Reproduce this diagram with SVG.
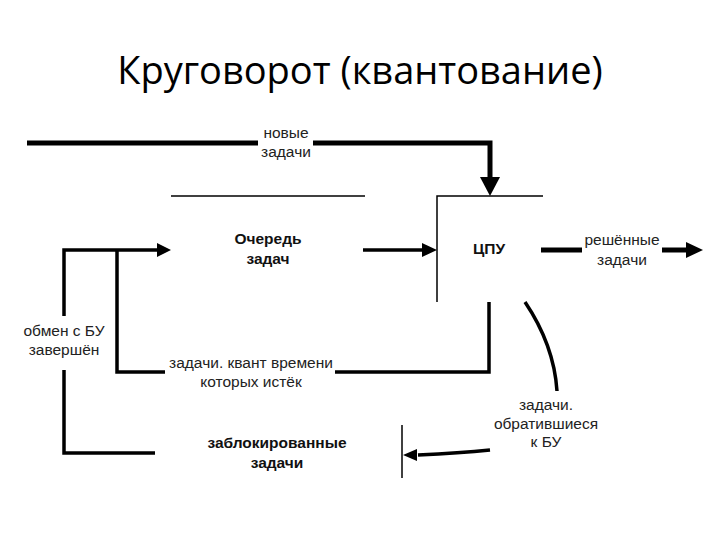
<svg xmlns="http://www.w3.org/2000/svg" width="720" height="540" viewBox="0 0 720 540">
<defs>
<style>
.t{font-family:"Liberation Sans",Arial,sans-serif;font-size:15.5px;fill:#222;text-anchor:middle}
.b{font-family:"Liberation Sans",Arial,sans-serif;font-size:15.5px;font-weight:bold;fill:#111;text-anchor:middle}
.title{font-family:"Open Sans","Liberation Sans",sans-serif;font-size:38px;fill:#000;text-anchor:middle}
.thick{stroke:#000;stroke-width:5;fill:none}
.med{stroke:#000;stroke-width:3.5;fill:none}
.thin{stroke:#000;stroke-width:1.5;fill:none}
</style>
</defs>
<rect width="720" height="540" fill="#fff"/>
<text class="title" x="360" y="84">Круговорот (квантование)</text>

<g id="queue">
<line class="thin" x1="171" y1="196" x2="365" y2="196"/>
<text class="b" x="268" y="244">Очередь</text>
<text class="b" x="268" y="264">задач</text>
</g>
<g id="cpu">
<path class="thin" d="M543,196 H437 V302"/>
<text class="b" x="489" y="254">ЦПУ</text>
</g>
<g id="blocked">
<line class="thin" x1="402" y1="425" x2="402" y2="478"/>
<text class="b" x="277" y="448">заблокированные</text>
<text class="b" x="277" y="468">задачи</text>
</g>

<g id="connectors">
<path class="thick" d="M27,143 H258"/>
<path class="thick" d="M313,143 H490 V178" />
<path d="M480,177 L500,177 L490,196 z" fill="#000"/>
<text class="t" x="286" y="138">новые</text>
<text class="t" x="286" y="157">задачи</text>

<path class="med" d="M363,250 H424"/>
<path d="M422,243 L437,250 L422,257 z" fill="#000"/>

<path class="thick" d="M541,250 H582"/>
<path class="thick" d="M662,250 H688"/>
<path d="M686,242 L703,250 L686,258 z" fill="#000"/>
<text class="t" x="622" y="245">решённые</text>
<text class="t" x="622" y="265">задачи</text>

<path class="med" d="M489,302 V372 H335"/>
<path class="med" d="M165,372 H117 V250"/>
<text class="t" x="251" y="368">задачи. квант времени</text>
<text class="t" x="251" y="387">которых истёк</text>

<path class="med" d="M155,453 H64 V370"/>
<path class="med" d="M64,316 V250 H158"/>
<path d="M157,243 L171,250 L157,257 z" fill="#000"/>
<text class="t" x="64" y="336">обмен с БУ</text>
<text class="t" x="64" y="355">завершён</text>

<path class="med" d="M525,302 Q554,345 557,391"/>
<text class="t" x="546" y="410">задачи.</text>
<text class="t" x="546" y="429">обратившиеся</text>
<text class="t" x="546" y="447">к БУ</text>

<path class="med" d="M490,450 Q460,453 418,455"/>
<path d="M417,449 L403,455 L417,461 z" fill="#000"/>
</g>
</svg>
